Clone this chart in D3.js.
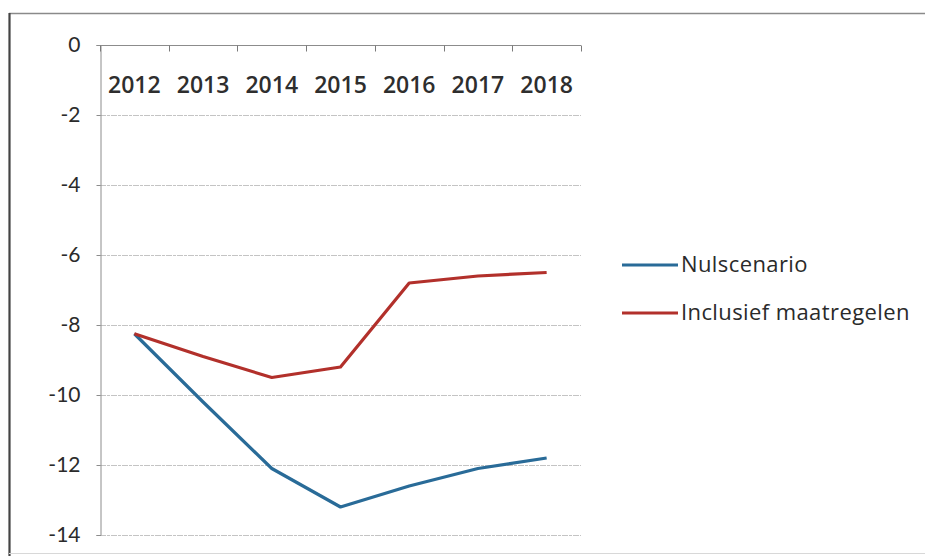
<!DOCTYPE html>
<html>
<head>
<meta charset="utf-8">
<script src="https://cdn.jsdelivr.net/npm/d3@7"></script>
<style>
  html, body { margin: 0; padding: 0; background: #ffffff; }
  svg { display: block; }
</style>
</head>
<body>
<script>
// Chart data
const years = ["2012", "2013", "2014", "2015", "2016", "2017", "2018"];
const nulscenario = [-8.25, -10.2, -12.1, -13.2, -12.6, -12.1, -11.8];
const inclusiefMaatregelen = [-8.25, -8.9, -9.5, -9.2, -6.8, -6.6, -6.5];
const yTicks = [0, -2, -4, -6, -8, -10, -12, -14];
const seriesNames = ["Nulscenario", "Inclusief maatregelen"];

const W = 925, H = 556;
const plot = { left: 100, right: 581, top: 45, bottom: 535 };
const colors = ["#296b98", "#b2302b"];

const svg = d3.select("body").append("svg")
  .attr("width", W).attr("height", H);

// outer frame of the figure
svg.append("line").attr("x1", 9).attr("x2", W).attr("y1", 13.5).attr("y2", 13.5)
  .attr("stroke", "#8a8a8a").attr("stroke-width", 1.5);
svg.append("line").attr("x1", 9.5).attr("x2", 9.5).attr("y1", 13).attr("y2", H)
  .attr("stroke", "#444").attr("stroke-width", 2.2);
svg.append("line").attr("x1", 9).attr("x2", W).attr("y1", 553.5).attr("y2", 553.5)
  .attr("stroke", "#d8d8d8").attr("stroke-width", 1);

const x = d3.scaleBand().domain(years).range([plot.left, plot.right]);
const y = d3.scaleLinear().domain([-14, 0]).range([plot.bottom, plot.top]);

// horizontal gridlines
svg.append("g").selectAll("line")
  .data(yTicks.filter(d => d !== 0))
  .join("line")
  .attr("x1", plot.left).attr("x2", plot.right)
  .attr("y1", d => y(d) + 0.5).attr("y2", d => y(d) + 0.5)
  .attr("stroke", "#c4c4c4").attr("stroke-width", 1)
  .attr("stroke-dasharray", "6,1,3,1");

// y axis
const yAxis = svg.append("g")
  .attr("transform", `translate(${plot.left + 0.5},0)`)
  .call(d3.axisLeft(y).tickValues(yTicks).tickSize(4).tickPadding(16)
    .tickFormat(d => d === 0 ? "0" : "-" + Math.abs(d)));
yAxis.select(".domain").attr("stroke", "#8c8c8c");
yAxis.selectAll(".tick line").attr("stroke", "#8c8c8c");
yAxis.selectAll("text")
  .attr("font-family", "Lato, 'Open Sans', sans-serif")
  .attr("font-size", 21).attr("fill", "#2b2b2b");

// x axis at value 0 (top), with category boundary ticks pointing down
const xAxisG = svg.append("g").attr("transform", `translate(0,${y(0) + 0.5})`);
xAxisG.append("line").attr("x1", plot.left).attr("x2", plot.right)
  .attr("stroke", "#8c8c8c").attr("stroke-width", 1);
const bounds = years.map(d => x(d)).concat([x(years[years.length - 1]) + x.bandwidth()]);
xAxisG.selectAll("line.tk").data(bounds).join("line").attr("class", "tk")
  .attr("x1", d => Math.round(d) + 0.5).attr("x2", d => Math.round(d) + 0.5)
  .attr("y1", 0).attr("y2", 6)
  .attr("stroke", "#7a7a7a");
svg.append("g").selectAll("text").data(years).join("text")
  .attr("x", d => x(d) + x.bandwidth() / 2)
  .attr("y", 93)
  .attr("text-anchor", "middle")
  .attr("font-family", "'Open Sans', Lato, sans-serif")
  .attr("font-weight", 600)
  .attr("font-size", 23).attr("fill", "#2e2e2e")
  .text(d => d);

// series lines
const line = d3.line()
  .x((d, i) => x(years[i]) + x.bandwidth() / 2)
  .y(d => y(d));
[nulscenario, inclusiefMaatregelen].forEach((s, k) => {
  svg.append("path").datum(s)
    .attr("d", line)
    .attr("fill", "none")
    .attr("stroke", colors[k])
    .attr("stroke-width", 3.2)
    .attr("stroke-linejoin", "round");
});

// legend
const legend = svg.append("g");
seriesNames.forEach((name, k) => {
  const ly = 265 + k * 48;
  legend.append("line").attr("x1", 622).attr("x2", 678)
    .attr("y1", ly).attr("y2", ly)
    .attr("stroke", colors[k]).attr("stroke-width", 3.2);
  legend.append("text").attr("x", 681).attr("y", ly + 7)
    .attr("font-family", "'Open Sans', Lato, sans-serif")
    .attr("font-size", 22).attr("letter-spacing", 0.4).attr("fill", "#2a2a2a")
    .text(name);
});
</script>
</body>
</html>
